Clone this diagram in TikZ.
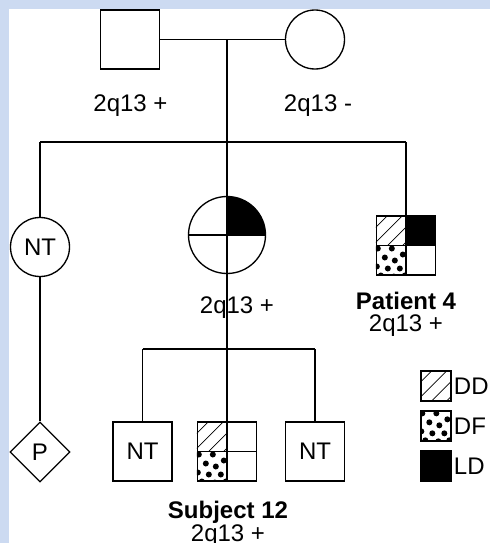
\documentclass[tikz,border=0pt]{standalone}
\usepackage{fontspec}
\setmainfont{Liberation Sans}
\usetikzlibrary{shapes.geometric}
\definecolor{PedBlue}{HTML}{CCDAF1}
\definecolor{PedBlack}{HTML}{000000}
\newcommand{\pedfont}{\fontsize{18}{21}\selectfont}
\tikzset{
    male/.style={
        draw=PedBlack,
        rectangle,
        line width=1pt,
        minimum size=44.25pt,
        inner sep=0pt,
        font=\pedfont
    },
    female/.style={
        draw=PedBlack,
        circle,
        line width=1pt,
        minimum size=#1,
        inner sep=0pt,
        font=\pedfont
    },
    female/.default=44.25pt,
    unknownsex/.style={
        draw=PedBlack,
        diamond,
        line width=1pt,
        minimum width=45pt,
        minimum height=45pt,
        inner sep=0pt,
        font=\pedfont
    },
    legendbox/.style={
        draw=PedBlack,
        rectangle,
        line width=1pt,
        minimum size=22.5pt,
        inner sep=0pt
    },
    geno/.style={font=\pedfont, inner sep=0pt, anchor=base},
    idname/.style={font=\pedfont\bfseries, inner sep=0pt, anchor=base},
    legendtext/.style={font=\pedfont, inner sep=0pt, anchor=west},
    line/.style={draw=PedBlack, line width=1pt},
    hatchline/.style={draw=PedBlack, line width=0.6pt}
}
% quadrant fills, #1 = top left corner of the quadrant, #2 = side (px)
\newcommand{\ddquad}[2]{%
    \begin{scope}[shift={(#1)}]
        \clip (0,0) rectangle (#2,#2);
        \foreach \c in {12,27,42,57} \draw[hatchline] (\c-30,30) -- (\c,0);
    \end{scope}}
\newcommand{\dfquad}[2]{%
    \begin{scope}[shift={(#1)}]
        \clip (0,0) rectangle (#2,#2);
        \foreach \a/\b in {2/3,16/3,27/9,9/12,19/15,1/21,12/23,24/23,29/30,5/30,18/31}
            \fill[PedBlack] (\a,\b) circle (3);
    \end{scope}}
\newcommand{\ldquad}[2]{%
    \fill[PedBlack] (#1) rectangle ++(#2,#2);}

\begin{document}
\begin{tikzpicture}[x=0.75pt, y=-0.75pt]
    % background
    \fill[PedBlue] (0,0) rectangle (490,543);
    \fill[white] (9,9) rectangle (490,543);
    \useasboundingbox (0,0) rectangle (490,543);

    % Parents
    \node[male] (father) at (130,39.5) {};
    \node[female] (mother) at (315,39.5) {};
    \node[geno] (fatherGeno) at (130.5,111) {2q13 +};
    \node[geno] (motherGeno) at (318,111) {2q13 -};
    \coordinate (mate) at (227,39.5);
    \coordinate (sib1) at (227,142);
    \coordinate (sib1L) at (40,142);
    \coordinate (sib1R) at (406,142);

    \draw[line] (father) -- (mother);
    \draw[line] (mate) -- (sib1);
    \draw[line] (sib1L) -- (sib1R);

    % Children
    \node[female] (sisNT) at (40,247) {NT};
    \node[unknownsex] (preg) at (40,452) {P};
    \node[female=57.75pt] (carrier) at (227,235) {};
    \node[geno] (carrierGeno) at (237,313) {2q13 +};
    \node[male] (pat4) at (406,245.5) {};
    \node[idname] (pat4Name) at (406,309) {Patient 4};
    \node[geno] (pat4Geno) at (406,331) {2q13 +};

    \draw[line] (sib1L) -- (sisNT);
    \draw[line] (sisNT) -- (preg);
    \draw[line] (sib1) -- (carrier);
    \draw[line] (sib1R) -- (pat4);

    % carrier: LD quadrant
    \begin{scope}
        \clip (carrier.center) rectangle (carrier.north -| carrier.east);
        \fill[PedBlack] (carrier.center) circle[radius=28.875pt];
    \end{scope}
    \draw[line] (carrier.north) -- (carrier.south);
    \draw[line] (carrier.west) -- (carrier.east);

    % Patient 4: DD, LD, DF
    \ddquad{pat4.north west}{29.5}
    \ldquad{pat4.north}{29.5}
    \dfquad{pat4.west}{29.5}
    \draw[line] (pat4.north) -- (pat4.south);
    \draw[line] (pat4.west) -- (pat4.east);

    % Grandchildren
    \coordinate (sib2) at (227,349);
    \coordinate (sib2L) at (142.5,349);
    \coordinate (sib2R) at (315,349);
    \node[male] (sonA) at (142.5,451.5) {NT};
    \node[male] (subj12) at (227,451.5) {};
    \node[male] (sonB) at (315,451.5) {NT};
    \node[idname] (subj12Name) at (228,518) {Subject 12};
    \node[geno] (subj12Geno) at (228,541) {2q13 +};

    \draw[line] (carrier) -- (sib2);
    \draw[line] (sib2L) -- (sib2R);
    \draw[line] (sib2L) -- (sonA);
    \draw[line] (sib2) -- (subj12);
    \draw[line] (sib2R) -- (sonB);

    % Subject 12: DD, DF
    \ddquad{subj12.north west}{29.5}
    \dfquad{subj12.west}{29.5}
    \draw[line] (subj12.north) -- (subj12.south);
    \draw[line] (subj12.west) -- (subj12.east);

    % Legend
    \node[legendbox] (keyDD) at (436,386) {};
    \node[legendbox] (keyDF) at (436,426) {};
    \node[legendbox] (keyLD) at (436,466) {};
    \ddquad{keyDD.north west}{30}
    \dfquad{keyDF.north west}{30}
    \ldquad{keyLD.north west}{30}
    \node[legendtext] (txtDD) at ([xshift=1.5pt]keyDD.east) {DD};
    \node[legendtext] (txtDF) at ([xshift=1.5pt]keyDF.east) {DF};
    \node[legendtext] (txtLD) at ([xshift=1.5pt]keyLD.east) {LD};
\end{tikzpicture}
\end{document}
